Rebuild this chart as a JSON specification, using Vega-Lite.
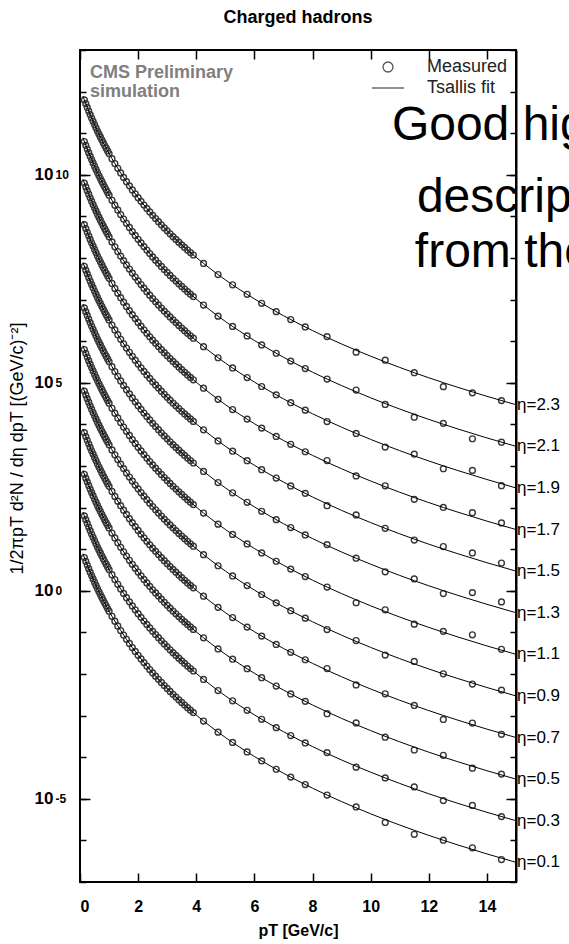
{
"$schema": "https://vega.github.io/schema/vega-lite/v6.json",
"width": 436, "height": 832,
"autosize": {"type": "none"},
"padding": {"left": 80, "top": 50, "right": 53, "bottom": 62},
"background": "white",
"title": {"text": "Charged hadrons", "font": "Liberation Sans", "fontSize": 18, "fontWeight": "bold", "color": "black", "offset": 17, "anchor": "middle"},
"config": {
  "view": {"stroke": "black", "strokeWidth": 2},
  "axis": {"domain": false, "grid": false, "tickColor": "black", "tickWidth": 1.5, "labelFont": "Liberation Sans", "titleFont": "Liberation Sans", "labelColor": "black", "titleColor": "black"}
},
"datasets": {
"fit": [
{"pt":0.1,"k0":7.84e0,"k1":7.84e1,"k2":7.84e2,"k3":7.84e3,"k4":7.84e4,"k5":7.84e5,"k6":7.84e6,"k7":7.84e7,"k8":7.84e8,"k9":7.84e9,"k10":7.84e10,"k11":7.84e11},
{"pt":0.2,"k0":5.11e0,"k1":5.11e1,"k2":5.11e2,"k3":5.11e3,"k4":5.11e4,"k5":5.11e5,"k6":5.11e6,"k7":5.11e7,"k8":5.11e8,"k9":5.11e9,"k10":5.11e10,"k11":5.11e11},
{"pt":0.3,"k0":3.41e0,"k1":3.41e1,"k2":3.41e2,"k3":3.41e3,"k4":3.41e4,"k5":3.41e5,"k6":3.41e6,"k7":3.41e7,"k8":3.41e8,"k9":3.41e9,"k10":3.41e10,"k11":3.41e11},
{"pt":0.4,"k0":2.32e0,"k1":2.32e1,"k2":2.32e2,"k3":2.32e3,"k4":2.32e4,"k5":2.32e5,"k6":2.32e6,"k7":2.32e7,"k8":2.32e8,"k9":2.32e9,"k10":2.32e10,"k11":2.32e11},
{"pt":0.5,"k0":1.61e0,"k1":1.61e1,"k2":1.61e2,"k3":1.61e3,"k4":1.61e4,"k5":1.61e5,"k6":1.61e6,"k7":1.61e7,"k8":1.61e8,"k9":1.61e9,"k10":1.61e10,"k11":1.61e11},
{"pt":0.6,"k0":1.13e0,"k1":1.13e1,"k2":1.13e2,"k3":1.13e3,"k4":1.13e4,"k5":1.13e5,"k6":1.13e6,"k7":1.13e7,"k8":1.13e8,"k9":1.13e9,"k10":1.13e10,"k11":1.13e11},
{"pt":0.7,"k0":8.13e-1,"k1":8.13e0,"k2":8.13e1,"k3":8.13e2,"k4":8.13e3,"k5":8.13e4,"k6":8.13e5,"k7":8.13e6,"k8":8.13e7,"k9":8.13e8,"k10":8.13e9,"k11":8.13e10},
{"pt":0.8,"k0":5.91e-1,"k1":5.91e0,"k2":5.91e1,"k3":5.91e2,"k4":5.91e3,"k5":5.91e4,"k6":5.91e5,"k7":5.91e6,"k8":5.91e7,"k9":5.91e8,"k10":5.91e9,"k11":5.91e10},
{"pt":1.0,"k0":3.24e-1,"k1":3.24e0,"k2":3.24e1,"k3":3.24e2,"k4":3.24e3,"k5":3.24e4,"k6":3.24e5,"k7":3.24e6,"k8":3.24e7,"k9":3.24e8,"k10":3.24e9,"k11":3.24e10},
{"pt":1.2,"k0":1.86e-1,"k1":1.86e0,"k2":1.86e1,"k3":1.86e2,"k4":1.86e3,"k5":1.86e4,"k6":1.86e5,"k7":1.86e6,"k8":1.86e7,"k9":1.86e8,"k10":1.86e9,"k11":1.86e10},
{"pt":1.4,"k0":1.11e-1,"k1":1.11e0,"k2":1.11e1,"k3":1.11e2,"k4":1.11e3,"k5":1.11e4,"k6":1.11e5,"k7":1.11e6,"k8":1.11e7,"k9":1.11e8,"k10":1.11e9,"k11":1.11e10},
{"pt":1.6,"k0":6.83e-2,"k1":6.83e-1,"k2":6.83e0,"k3":6.83e1,"k4":6.83e2,"k5":6.83e3,"k6":6.83e4,"k7":6.83e5,"k8":6.83e6,"k9":6.83e7,"k10":6.83e8,"k11":6.83e9},
{"pt":1.8,"k0":4.33e-2,"k1":4.33e-1,"k2":4.33e0,"k3":4.33e1,"k4":4.33e2,"k5":4.33e3,"k6":4.33e4,"k7":4.33e5,"k8":4.33e6,"k9":4.33e7,"k10":4.33e8,"k11":4.33e9},
{"pt":2.0,"k0":2.82e-2,"k1":2.82e-1,"k2":2.82e0,"k3":2.82e1,"k4":2.82e2,"k5":2.82e3,"k6":2.82e4,"k7":2.82e5,"k8":2.82e6,"k9":2.82e7,"k10":2.82e8,"k11":2.82e9},
{"pt":2.3,"k0":1.55e-2,"k1":1.55e-1,"k2":1.55e0,"k3":1.55e1,"k4":1.55e2,"k5":1.55e3,"k6":1.55e4,"k7":1.55e5,"k8":1.55e6,"k9":1.55e7,"k10":1.55e8,"k11":1.55e9},
{"pt":2.6,"k0":8.88e-3,"k1":8.88e-2,"k2":8.88e-1,"k3":8.88e0,"k4":8.88e1,"k5":8.88e2,"k6":8.88e3,"k7":8.88e4,"k8":8.88e5,"k9":8.88e6,"k10":8.88e7,"k11":8.88e8},
{"pt":3.0,"k0":4.49e-3,"k1":4.49e-2,"k2":4.49e-1,"k3":4.49e0,"k4":4.49e1,"k5":4.49e2,"k6":4.49e3,"k7":4.49e4,"k8":4.49e5,"k9":4.49e6,"k10":4.49e7,"k11":4.49e8},
{"pt":3.5,"k0":2.07e-3,"k1":2.07e-2,"k2":2.07e-1,"k3":2.07e0,"k4":2.07e1,"k5":2.07e2,"k6":2.07e3,"k7":2.07e4,"k8":2.07e5,"k9":2.07e6,"k10":2.07e7,"k11":2.07e8},
{"pt":4.0,"k0":1.03e-3,"k1":1.03e-2,"k2":1.03e-1,"k3":1.03e0,"k4":1.03e1,"k5":1.03e2,"k6":1.03e3,"k7":1.03e4,"k8":1.03e5,"k9":1.03e6,"k10":1.03e7,"k11":1.03e8},
{"pt":5.0,"k0":2.99e-4,"k1":2.99e-3,"k2":2.99e-2,"k3":2.99e-1,"k4":2.99e0,"k5":2.99e1,"k6":2.99e2,"k7":2.99e3,"k8":2.99e4,"k9":2.99e5,"k10":2.99e6,"k11":2.99e7},
{"pt":6.0,"k0":1.04e-4,"k1":1.04e-3,"k2":1.04e-2,"k3":1.04e-1,"k4":1.04e0,"k5":1.04e1,"k6":1.04e2,"k7":1.04e3,"k8":1.04e4,"k9":1.04e5,"k10":1.04e6,"k11":1.04e7},
{"pt":7.0,"k0":4.11e-5,"k1":4.11e-4,"k2":4.11e-3,"k3":4.11e-2,"k4":4.11e-1,"k5":4.11e0,"k6":4.11e1,"k7":4.11e2,"k8":4.11e3,"k9":4.11e4,"k10":4.11e5,"k11":4.11e6},
{"pt":8.0,"k0":1.80e-5,"k1":1.80e-4,"k2":1.80e-3,"k3":1.80e-2,"k4":1.80e-1,"k5":1.80e0,"k6":1.80e1,"k7":1.80e2,"k8":1.80e3,"k9":1.80e4,"k10":1.80e5,"k11":1.80e6},
{"pt":9.0,"k0":8.57e-6,"k1":8.57e-5,"k2":8.57e-4,"k3":8.57e-3,"k4":8.57e-2,"k5":8.57e-1,"k6":8.57e0,"k7":8.57e1,"k8":8.57e2,"k9":8.57e3,"k10":8.57e4,"k11":8.57e5},
{"pt":10,"k0":4.36e-6,"k1":4.36e-5,"k2":4.36e-4,"k3":4.36e-3,"k4":4.36e-2,"k5":4.36e-1,"k6":4.36e0,"k7":4.36e1,"k8":4.36e2,"k9":4.36e3,"k10":4.36e4,"k11":4.36e5},
{"pt":11,"k0":2.34e-6,"k1":2.34e-5,"k2":2.34e-4,"k3":2.34e-3,"k4":2.34e-2,"k5":2.34e-1,"k6":2.34e0,"k7":2.34e1,"k8":2.34e2,"k9":2.34e3,"k10":2.34e4,"k11":2.34e5},
{"pt":12,"k0":1.32e-6,"k1":1.32e-5,"k2":1.32e-4,"k3":1.32e-3,"k4":1.32e-2,"k5":1.32e-1,"k6":1.32e0,"k7":1.32e1,"k8":1.32e2,"k9":1.32e3,"k10":1.32e4,"k11":1.32e5},
{"pt":13,"k0":7.77e-7,"k1":7.77e-6,"k2":7.77e-5,"k3":7.77e-4,"k4":7.77e-3,"k5":7.77e-2,"k6":7.77e-1,"k7":7.77e0,"k8":7.77e1,"k9":7.77e2,"k10":7.77e3,"k11":7.77e4},
{"pt":14,"k0":4.73e-7,"k1":4.73e-6,"k2":4.73e-5,"k3":4.73e-4,"k4":4.73e-3,"k5":4.73e-2,"k6":4.73e-1,"k7":4.73e0,"k8":4.73e1,"k9":4.73e2,"k10":4.73e3,"k11":4.73e4},
{"pt":15,"k0":2.97e-7,"k1":2.97e-6,"k2":2.97e-5,"k3":2.97e-4,"k4":2.97e-3,"k5":2.97e-2,"k6":2.97e-1,"k7":2.97e0,"k8":2.97e1,"k9":2.97e2,"k10":2.97e3,"k11":2.97e4}
],
"meas": [
{"pt":0.15,"k0":6.31e0,"k1":6.31e1,"k2":6.31e2,"k3":6.31e3,"k4":6.31e4,"k5":6.31e5,"k6":6.31e6,"k7":6.31e7,"k8":6.31e8,"k9":6.31e9,"k10":6.31e10,"k11":6.31e11},
{"pt":0.2,"k0":5.11e0,"k1":5.11e1,"k2":5.11e2,"k3":5.11e3,"k4":5.11e4,"k5":5.11e5,"k6":5.11e6,"k7":5.11e7,"k8":5.11e8,"k9":5.11e9,"k10":5.11e10,"k11":5.11e11},
{"pt":0.25,"k0":4.16e0,"k1":4.16e1,"k2":4.16e2,"k3":4.16e3,"k4":4.16e4,"k5":4.16e5,"k6":4.16e6,"k7":4.16e7,"k8":4.16e8,"k9":4.16e9,"k10":4.16e10,"k11":4.16e11},
{"pt":0.3,"k0":3.41e0,"k1":3.41e1,"k2":3.41e2,"k3":3.41e3,"k4":3.41e4,"k5":3.41e5,"k6":3.41e6,"k7":3.41e7,"k8":3.41e8,"k9":3.41e9,"k10":3.41e10,"k11":3.41e11},
{"pt":0.35,"k0":2.80e0,"k1":2.80e1,"k2":2.80e2,"k3":2.80e3,"k4":2.80e4,"k5":2.80e5,"k6":2.80e6,"k7":2.80e7,"k8":2.80e8,"k9":2.80e9,"k10":2.80e10,"k11":2.80e11},
{"pt":0.4,"k0":2.32e0,"k1":2.32e1,"k2":2.32e2,"k3":2.32e3,"k4":2.32e4,"k5":2.32e5,"k6":2.32e6,"k7":2.32e7,"k8":2.32e8,"k9":2.32e9,"k10":2.32e10,"k11":2.32e11},
{"pt":0.45,"k0":1.93e0,"k1":1.93e1,"k2":1.93e2,"k3":1.93e3,"k4":1.93e4,"k5":1.93e5,"k6":1.93e6,"k7":1.93e7,"k8":1.93e8,"k9":1.93e9,"k10":1.93e10,"k11":1.93e11},
{"pt":0.5,"k0":1.61e0,"k1":1.61e1,"k2":1.61e2,"k3":1.61e3,"k4":1.61e4,"k5":1.61e5,"k6":1.61e6,"k7":1.61e7,"k8":1.61e8,"k9":1.61e9,"k10":1.61e10,"k11":1.61e11},
{"pt":0.55,"k0":1.35e0,"k1":1.35e1,"k2":1.35e2,"k3":1.35e3,"k4":1.35e4,"k5":1.35e5,"k6":1.35e6,"k7":1.35e7,"k8":1.35e8,"k9":1.35e9,"k10":1.35e10,"k11":1.35e11},
{"pt":0.6,"k0":1.13e0,"k1":1.13e1,"k2":1.13e2,"k3":1.13e3,"k4":1.13e4,"k5":1.13e5,"k6":1.13e6,"k7":1.13e7,"k8":1.13e8,"k9":1.13e9,"k10":1.13e10,"k11":1.13e11},
{"pt":0.65,"k0":9.58e-1,"k1":9.58e0,"k2":9.58e1,"k3":9.58e2,"k4":9.58e3,"k5":9.58e4,"k6":9.58e5,"k7":9.58e6,"k8":9.58e7,"k9":9.58e8,"k10":9.58e9,"k11":9.58e10},
{"pt":0.7,"k0":8.13e-1,"k1":8.13e0,"k2":8.13e1,"k3":8.13e2,"k4":8.13e3,"k5":8.13e4,"k6":8.13e5,"k7":8.13e6,"k8":8.13e7,"k9":8.13e8,"k10":8.13e9,"k11":8.13e10},
{"pt":0.75,"k0":6.92e-1,"k1":6.92e0,"k2":6.92e1,"k3":6.92e2,"k4":6.92e3,"k5":6.92e4,"k6":6.92e5,"k7":6.92e6,"k8":6.92e7,"k9":6.92e8,"k10":6.92e9,"k11":6.92e10},
{"pt":0.8,"k0":5.91e-1,"k1":5.91e0,"k2":5.91e1,"k3":5.91e2,"k4":5.91e3,"k5":5.91e4,"k6":5.91e5,"k7":5.91e6,"k8":5.91e7,"k9":5.91e8,"k10":5.91e9,"k11":5.91e10},
{"pt":0.85,"k0":5.06e-1,"k1":5.06e0,"k2":5.06e1,"k3":5.06e2,"k4":5.06e3,"k5":5.06e4,"k6":5.06e5,"k7":5.06e6,"k8":5.06e7,"k9":5.06e8,"k10":5.06e9,"k11":5.06e10},
{"pt":0.9,"k0":4.35e-1,"k1":4.35e0,"k2":4.35e1,"k3":4.35e2,"k4":4.35e3,"k5":4.35e4,"k6":4.35e5,"k7":4.35e6,"k8":4.35e7,"k9":4.35e8,"k10":4.35e9,"k11":4.35e10},
{"pt":0.95,"k0":3.75e-1,"k1":3.75e0,"k2":3.75e1,"k3":3.75e2,"k4":3.75e3,"k5":3.75e4,"k6":3.75e5,"k7":3.75e6,"k8":3.75e7,"k9":3.75e8,"k10":3.75e9,"k11":3.75e10},
{"pt":1.0,"k0":3.24e-1,"k1":3.24e0,"k2":3.24e1,"k3":3.24e2,"k4":3.24e3,"k5":3.24e4,"k6":3.24e5,"k7":3.24e6,"k8":3.24e7,"k9":3.24e8,"k10":3.24e9,"k11":3.24e10},
{"pt":1.1,"k0":2.44e-1,"k1":2.44e0,"k2":2.44e1,"k3":2.44e2,"k4":2.44e3,"k5":2.44e4,"k6":2.44e5,"k7":2.44e6,"k8":2.44e7,"k9":2.44e8,"k10":2.44e9,"k11":2.44e10},
{"pt":1.2,"k0":1.86e-1,"k1":1.86e0,"k2":1.86e1,"k3":1.86e2,"k4":1.86e3,"k5":1.86e4,"k6":1.86e5,"k7":1.86e6,"k8":1.86e7,"k9":1.86e8,"k10":1.86e9,"k11":1.86e10},
{"pt":1.3,"k0":1.43e-1,"k1":1.43e0,"k2":1.43e1,"k3":1.43e2,"k4":1.43e3,"k5":1.43e4,"k6":1.43e5,"k7":1.43e6,"k8":1.43e7,"k9":1.43e8,"k10":1.43e9,"k11":1.43e10},
{"pt":1.4,"k0":1.11e-1,"k1":1.11e0,"k2":1.11e1,"k3":1.11e2,"k4":1.11e3,"k5":1.11e4,"k6":1.11e5,"k7":1.11e6,"k8":1.11e7,"k9":1.11e8,"k10":1.11e9,"k11":1.11e10},
{"pt":1.5,"k0":8.66e-2,"k1":8.66e-1,"k2":8.66e0,"k3":8.66e1,"k4":8.66e2,"k5":8.66e3,"k6":8.66e4,"k7":8.66e5,"k8":8.66e6,"k9":8.66e7,"k10":8.66e8,"k11":8.66e9},
{"pt":1.6,"k0":6.83e-2,"k1":6.83e-1,"k2":6.83e0,"k3":6.83e1,"k4":6.83e2,"k5":6.83e3,"k6":6.83e4,"k7":6.83e5,"k8":6.83e6,"k9":6.83e7,"k10":6.83e8,"k11":6.83e9},
{"pt":1.7,"k0":5.42e-2,"k1":5.42e-1,"k2":5.42e0,"k3":5.42e1,"k4":5.42e2,"k5":5.42e3,"k6":5.42e4,"k7":5.42e5,"k8":5.42e6,"k9":5.42e7,"k10":5.42e8,"k11":5.42e9},
{"pt":1.8,"k0":4.33e-2,"k1":4.33e-1,"k2":4.33e0,"k3":4.33e1,"k4":4.33e2,"k5":4.33e3,"k6":4.33e4,"k7":4.33e5,"k8":4.33e6,"k9":4.33e7,"k10":4.33e8,"k11":4.33e9},
{"pt":1.9,"k0":3.49e-2,"k1":3.49e-1,"k2":3.49e0,"k3":3.49e1,"k4":3.49e2,"k5":3.49e3,"k6":3.49e4,"k7":3.49e5,"k8":3.49e6,"k9":3.49e7,"k10":3.49e8,"k11":3.49e9},
{"pt":2.0,"k0":2.82e-2,"k1":2.82e-1,"k2":2.82e0,"k3":2.82e1,"k4":2.82e2,"k5":2.82e3,"k6":2.82e4,"k7":2.82e5,"k8":2.82e6,"k9":2.82e7,"k10":2.82e8,"k11":2.82e9},
{"pt":2.1,"k0":2.30e-2,"k1":2.30e-1,"k2":2.30e0,"k3":2.30e1,"k4":2.30e2,"k5":2.30e3,"k6":2.30e4,"k7":2.30e5,"k8":2.30e6,"k9":2.30e7,"k10":2.30e8,"k11":2.30e9},
{"pt":2.2,"k0":1.88e-2,"k1":1.88e-1,"k2":1.88e0,"k3":1.88e1,"k4":1.88e2,"k5":1.88e3,"k6":1.88e4,"k7":1.88e5,"k8":1.88e6,"k9":1.88e7,"k10":1.88e8,"k11":1.88e9},
{"pt":2.3,"k0":1.55e-2,"k1":1.55e-1,"k2":1.55e0,"k3":1.55e1,"k4":1.55e2,"k5":1.55e3,"k6":1.55e4,"k7":1.55e5,"k8":1.55e6,"k9":1.55e7,"k10":1.55e8,"k11":1.55e9},
{"pt":2.4,"k0":1.28e-2,"k1":1.28e-1,"k2":1.28e0,"k3":1.28e1,"k4":1.28e2,"k5":1.28e3,"k6":1.28e4,"k7":1.28e5,"k8":1.28e6,"k9":1.28e7,"k10":1.28e8,"k11":1.28e9},
{"pt":2.5,"k0":1.06e-2,"k1":1.06e-1,"k2":1.06e0,"k3":1.06e1,"k4":1.06e2,"k5":1.06e3,"k6":1.06e4,"k7":1.06e5,"k8":1.06e6,"k9":1.06e7,"k10":1.06e8,"k11":1.06e9},
{"pt":2.6,"k0":8.88e-3,"k1":8.88e-2,"k2":8.88e-1,"k3":8.88e0,"k4":8.88e1,"k5":8.88e2,"k6":8.88e3,"k7":8.88e4,"k8":8.88e5,"k9":8.88e6,"k10":8.88e7,"k11":8.88e8},
{"pt":2.7,"k0":7.45e-3,"k1":7.45e-2,"k2":7.45e-1,"k3":7.45e0,"k4":7.45e1,"k5":7.45e2,"k6":7.45e3,"k7":7.45e4,"k8":7.45e5,"k9":7.45e6,"k10":7.45e7,"k11":7.45e8},
{"pt":2.8,"k0":6.27e-3,"k1":6.27e-2,"k2":6.27e-1,"k3":6.27e0,"k4":6.27e1,"k5":6.27e2,"k6":6.27e3,"k7":6.27e4,"k8":6.27e5,"k9":6.27e6,"k10":6.27e7,"k11":6.27e8},
{"pt":2.9,"k0":5.29e-3,"k1":5.29e-2,"k2":5.29e-1,"k3":5.29e0,"k4":5.29e1,"k5":5.29e2,"k6":5.29e3,"k7":5.29e4,"k8":5.29e5,"k9":5.29e6,"k10":5.29e7,"k11":5.29e8},
{"pt":3.0,"k0":4.49e-3,"k1":4.49e-2,"k2":4.49e-1,"k3":4.49e0,"k4":4.49e1,"k5":4.49e2,"k6":4.49e3,"k7":4.49e4,"k8":4.49e5,"k9":4.49e6,"k10":4.49e7,"k11":4.49e8},
{"pt":3.1,"k0":3.82e-3,"k1":3.82e-2,"k2":3.82e-1,"k3":3.82e0,"k4":3.82e1,"k5":3.82e2,"k6":3.82e3,"k7":3.82e4,"k8":3.82e5,"k9":3.82e6,"k10":3.82e7,"k11":3.82e8},
{"pt":3.2,"k0":3.26e-3,"k1":3.26e-2,"k2":3.26e-1,"k3":3.26e0,"k4":3.26e1,"k5":3.26e2,"k6":3.26e3,"k7":3.26e4,"k8":3.26e5,"k9":3.26e6,"k10":3.26e7,"k11":3.26e8},
{"pt":3.3,"k0":2.80e-3,"k1":2.80e-2,"k2":2.80e-1,"k3":2.80e0,"k4":2.80e1,"k5":2.80e2,"k6":2.80e3,"k7":2.80e4,"k8":2.80e5,"k9":2.80e6,"k10":2.80e7,"k11":2.80e8},
{"pt":3.4,"k0":2.40e-3,"k1":2.40e-2,"k2":2.40e-1,"k3":2.40e0,"k4":2.40e1,"k5":2.40e2,"k6":2.40e3,"k7":2.40e4,"k8":2.40e5,"k9":2.40e6,"k10":2.40e7,"k11":2.40e8},
{"pt":3.5,"k0":2.07e-3,"k1":2.07e-2,"k2":2.07e-1,"k3":2.07e0,"k4":2.07e1,"k5":2.07e2,"k6":2.07e3,"k7":2.07e4,"k8":2.07e5,"k9":2.07e6,"k10":2.07e7,"k11":2.07e8},
{"pt":3.6,"k0":1.79e-3,"k1":1.79e-2,"k2":1.79e-1,"k3":1.79e0,"k4":1.79e1,"k5":1.79e2,"k6":1.79e3,"k7":1.79e4,"k8":1.79e5,"k9":1.79e6,"k10":1.79e7,"k11":1.79e8},
{"pt":3.7,"k0":1.55e-3,"k1":1.55e-2,"k2":1.55e-1,"k3":1.55e0,"k4":1.55e1,"k5":1.55e2,"k6":1.55e3,"k7":1.55e4,"k8":1.55e5,"k9":1.55e6,"k10":1.55e7,"k11":1.55e8},
{"pt":3.8,"k0":1.35e-3,"k1":1.35e-2,"k2":1.35e-1,"k3":1.35e0,"k4":1.35e1,"k5":1.35e2,"k6":1.35e3,"k7":1.35e4,"k8":1.35e5,"k9":1.35e6,"k10":1.35e7,"k11":1.35e8},
{"pt":3.9,"k0":1.18e-3,"k1":1.18e-2,"k2":1.18e-1,"k3":1.18e0,"k4":1.18e1,"k5":1.18e2,"k6":1.18e3,"k7":1.18e4,"k8":1.18e5,"k9":1.18e6,"k10":1.18e7,"k11":1.18e8},
{"pt":4.25,"k0":7.40e-4,"k1":7.40e-3,"k2":7.40e-2,"k3":7.40e-1,"k4":7.40e0,"k5":7.40e1,"k6":7.40e2,"k7":7.40e3,"k8":7.40e4,"k9":7.40e5,"k10":7.40e6,"k11":7.40e7},
{"pt":4.75,"k0":4.00e-4,"k1":4.00e-3,"k2":4.00e-2,"k3":4.00e-1,"k4":4.00e0,"k5":4.00e1,"k6":4.00e2,"k7":4.00e3,"k8":4.00e4,"k9":4.00e5,"k10":4.00e6,"k11":4.00e7},
{"pt":5.25,"k0":2.27e-4,"k1":2.27e-3,"k2":2.27e-2,"k3":2.27e-1,"k4":2.27e0,"k5":2.27e1,"k6":2.27e2,"k7":2.27e3,"k8":2.27e4,"k9":2.27e5,"k10":2.27e6,"k11":2.27e7},
{"pt":5.75,"k0":1.34e-4,"k1":1.34e-3,"k2":1.34e-2,"k3":1.34e-1,"k4":1.34e0,"k5":1.34e1,"k6":1.34e2,"k7":1.34e3,"k8":1.34e4,"k9":1.34e5,"k10":1.34e6,"k11":1.34e7},
{"pt":6.25,"k0":8.15e-5,"k1":8.15e-4,"k2":8.15e-3,"k3":8.15e-2,"k4":8.15e-1,"k5":8.15e0,"k6":8.15e1,"k7":8.15e2,"k8":8.15e3,"k9":8.15e4,"k10":8.15e5,"k11":8.15e6},
{"pt":6.75,"k0":5.13e-5,"k1":5.13e-4,"k2":5.13e-3,"k3":5.13e-2,"k4":5.13e-1,"k5":5.13e0,"k6":5.13e1,"k7":5.13e2,"k8":5.13e3,"k9":5.13e4,"k10":5.13e5,"k11":5.13e6},
{"pt":7.25,"k0":3.32e-5,"k1":3.32e-4,"k2":3.32e-3,"k3":3.32e-2,"k4":3.32e-1,"k5":3.32e0,"k6":3.32e1,"k7":3.32e2,"k8":3.32e3,"k9":3.32e4,"k10":3.32e5,"k11":3.32e6},
{"pt":7.75,"k0":2.20e-5,"k1":2.20e-4,"k2":2.20e-3,"k3":2.20e-2,"k4":2.20e-1,"k5":2.20e0,"k6":2.20e1,"k7":2.20e2,"k8":2.20e3,"k9":2.20e4,"k10":2.20e5,"k11":2.20e6},
{"pt":8.5,"k0":1.23e-5,"k1":1.29e-4,"k2":1.11e-3,"k3":1.35e-2,"k4":1.17e-1,"k5":1.23e0,"k6":1.29e1,"k7":1.11e2,"k8":1.35e3,"k9":1.17e4,"k10":1.23e5,"k11":1.29e6},
{"pt":9.5,"k0":6.37e-6,"k1":5.77e-5,"k2":6.68e-4,"k3":5.46e-3,"k4":6.37e-2,"k5":5.16e-1,"k6":6.07e0,"k7":6.68e1,"k8":5.77e2,"k9":6.07e3,"k10":6.68e4,"k11":5.46e5},
{"pt":10.5,"k0":2.70e-6,"k1":3.18e-5,"k2":3.02e-4,"k3":3.34e-3,"k4":2.86e-2,"k5":3.50e-1,"k6":2.86e0,"k7":3.18e1,"k8":3.34e2,"k9":2.86e3,"k10":3.02e4,"k11":3.50e5},
{"pt":11.5,"k0":1.40e-6,"k1":1.93e-5,"k2":1.49e-4,"k3":1.75e-3,"k4":2.01e-2,"k5":1.58e-1,"k6":1.93e0,"k7":1.66e1,"k8":1.58e2,"k9":1.93e3,"k10":1.49e4,"k11":1.75e5},
{"pt":12.5,"k0":1.01e-6,"k1":0.909e-5,"k2":1.11e-4,"k3":0.808e-3,"k4":1.01e-2,"k5":1.06e-1,"k6":0.859e0,"k7":1.16e1,"k8":1.01e2,"k9":0.859e3,"k10":1.06e4,"k11":0.808e5},
{"pt":13.5,"k0":6.63e-7,"k1":6.93e-6,"k2":5.43e-5,"k3":6.63e-4,"k4":5.73e-3,"k5":8.74e-2,"k6":9.05e-1,"k7":8.14e0,"k8":7.54e1,"k9":7.84e2,"k10":4.52e3,"k11":5.73e4},
{"pt":14.5,"k0":3.47e-7,"k1":3.73e-6,"k2":3.92e-5,"k3":3.54e-4,"k4":4.10e-3,"k5":3.92e-2,"k6":5.41e-1,"k7":4.66e0,"k8":4.29e1,"k9":3.36e2,"k10":3.73e3,"k11":3.73e4}
],
"labs": [
{"lab":"η=0.1","pt":15,"v":2.97e-7},
{"lab":"η=0.3","pt":15,"v":2.97e-6},
{"lab":"η=0.5","pt":15,"v":2.97e-5},
{"lab":"η=0.7","pt":15,"v":2.97e-4},
{"lab":"η=0.9","pt":15,"v":2.97e-3},
{"lab":"η=1.1","pt":15,"v":2.97e-2},
{"lab":"η=1.3","pt":15,"v":2.97e-1},
{"lab":"η=1.5","pt":15,"v":2.97e0},
{"lab":"η=1.7","pt":15,"v":2.97e1},
{"lab":"η=1.9","pt":15,"v":2.97e2},
{"lab":"η=2.1","pt":15,"v":2.97e3},
{"lab":"η=2.3","pt":15,"v":2.97e4}
]
},
"layer": [
{
  "data": {"name": "meas"},
  "transform": [{"fold": ["k0","k1","k2","k3","k4","k5","k6","k7","k8","k9","k10","k11"], "as": ["eta", "v"]}],
  "mark": {"type": "point", "filled": false, "color": "#383838", "strokeWidth": 1.4, "size": 34, "opacity": 1},
  "encoding": {
    "x": {"field": "pt", "type": "quantitative", "scale": {"domain": [0, 15], "nice": false, "zero": false},
          "axis": {"orient": "top", "values": [0,2,4,6,8,10,12,14], "tickSize": -9, "labels": false, "title": null}},
    "y": {"field": "v", "type": "quantitative", "scale": {"type": "log", "domain": [1e-7, 1e13], "nice": false},
          "axis": {"orient": "right", "values": [1e-7,1e-6,1e-5,1e-4,1e-3,1e-2,1e-1,1,1e1,1e2,1e3,1e4,1e5,1e6,1e7,1e8,1e9,1e10,1e11,1e12,1e13], "tickSize": -6, "labels": false, "title": null}},
    "detail": {"field": "eta"},
    "shape": {"datum": "Measured", "type": "nominal",
              "scale": {"domain": ["Measured", "Tsallis fit"], "range": ["circle", "M-3.2,0H3.2"]},
              "legend": {"title": null, "orient": "top-right", "offset": 8, "padding": 0, "symbolSize": 100,
                         "symbolStrokeColor": "#555555", "symbolStrokeWidth": 1.3, "symbolFillColor": "transparent",
                         "labelFont": "Liberation Sans", "labelFontSize": 18, "labelColor": "#222222", "labelOffset": 30, "rowPadding": 3,
                         "encode": {"symbols": {"update": {"size": {"signal": "datum.value === 'Measured' ? 36 : 100"}}}}}}
  }
},
{
  "data": {"name": "fit"},
  "transform": [{"fold": ["k0","k1","k2","k3","k4","k5","k6","k7","k8","k9","k10","k11"], "as": ["eta", "v"]}],
  "mark": {"type": "line", "color": "black", "strokeWidth": 1, "interpolate": "monotone"},
  "encoding": {
    "x": {"field": "pt", "type": "quantitative",
          "axis": {"orient": "bottom", "values": [0,2,4,6,8,10,12,14], "tickSize": -9, "labelFontSize": 16, "labelFontWeight": "bold", "labelPadding": 25,
                   "title": "pT [GeV/c]", "titleFontSize": 16, "titleFontWeight": "bold", "titlePadding": 8}},
    "y": {"field": "v", "type": "quantitative",
          "axis": {"orient": "left", "values": [1e-5, 1, 1e5, 1e10], "tickSize": -10, "labelFontSize": 17, "labelFontWeight": "bold", "labelPadding": 37,
                   "labelExpr": "'10'",
                   "title": "1/2πpT d²N / dη dpT [(GeV/c)⁻²]", "titleFontSize": 18, "titleFontWeight": "normal", "titlePadding": 8, "titleY": 398}},
    "detail": {"field": "eta"}
  }
},
{
  "data": {"name": "labs"},
  "mark": {"type": "text", "align": "left", "baseline": "middle", "font": "Liberation Sans", "fontSize": 17, "color": "black", "dx": 1},
  "encoding": {
    "x": {"field": "pt", "type": "quantitative", "axis": null},
    "y": {"field": "v", "type": "quantitative",
          "axis": {"orient": "left", "values": [1e-7,1e-6,1e-5,1e-4,1e-3,1e-2,1e-1,1,1e1,1e2,1e3,1e4,1e5,1e6,1e7,1e8,1e9,1e10,1e11,1e12,1e13], "tickSize": -6,
                   "labelExpr": "datum.value > 1e9 && datum.value < 1e11 ? '10' : datum.value > 1e4 && datum.value < 1e6 ? '5' : datum.value > 0.1 && datum.value < 10 ? '0' : datum.value > 1e-6 && datum.value < 1e-4 ? '-5' : ''",
                   "labelAlign": "left", "labelPadding": 31, "labelDy": -8, "labelFontSize": 12, "labelFontWeight": "bold", "labelOverlap": false, "title": null}},
    "text": {"field": "lab"}
  }
},
{
  "data": {"values": [{}]},
  "mark": {"type": "text", "align": "left", "baseline": "alphabetic", "font": "Liberation Sans", "fontSize": 18, "fontWeight": "bold", "color": "#808080", "lineHeight": 19},
  "encoding": {
    "x": {"datum": 0.34, "type": "quantitative", "axis": null},
    "y": {"datum": 2.16e12, "type": "quantitative",
          "axis": {"orient": "right", "values": [1e-5, 1, 1e5, 1e10], "tickSize": -10, "labels": false, "title": null, "domain": true, "domainColor": "black", "domainWidth": 2, "zindex": 1}},
    "text": {"value": ["CMS Preliminary", "simulation"]}
  }
},
{
  "data": {"values": [{}]},
  "mark": {"type": "text", "align": "left", "baseline": "alphabetic", "font": "Liberation Sans", "fontSize": 48, "color": "black"},
  "encoding": {
    "x": {"datum": 10.73, "type": "quantitative", "axis": null},
    "y": {"datum": 7.0e10, "type": "quantitative", "axis": null},
    "text": {"value": "Good high"}
  }
},
{
  "data": {"values": [{}]},
  "mark": {"type": "text", "align": "left", "baseline": "alphabetic", "font": "Liberation Sans", "fontSize": 48, "color": "black"},
  "encoding": {
    "x": {"datum": 11.59, "type": "quantitative", "axis": null},
    "y": {"datum": 1.25e9, "type": "quantitative", "axis": null},
    "text": {"value": "description"}
  }
},
{
  "data": {"values": [{}]},
  "mark": {"type": "text", "align": "left", "baseline": "alphabetic", "font": "Liberation Sans", "fontSize": 48, "color": "black"},
  "encoding": {
    "x": {"datum": 11.52, "type": "quantitative", "axis": null},
    "y": {"datum": 6.0e7, "type": "quantitative", "axis": null},
    "text": {"value": "from the"}
  }
}
],
"resolve": {"axis": {"x": "independent", "y": "independent"}}
}
